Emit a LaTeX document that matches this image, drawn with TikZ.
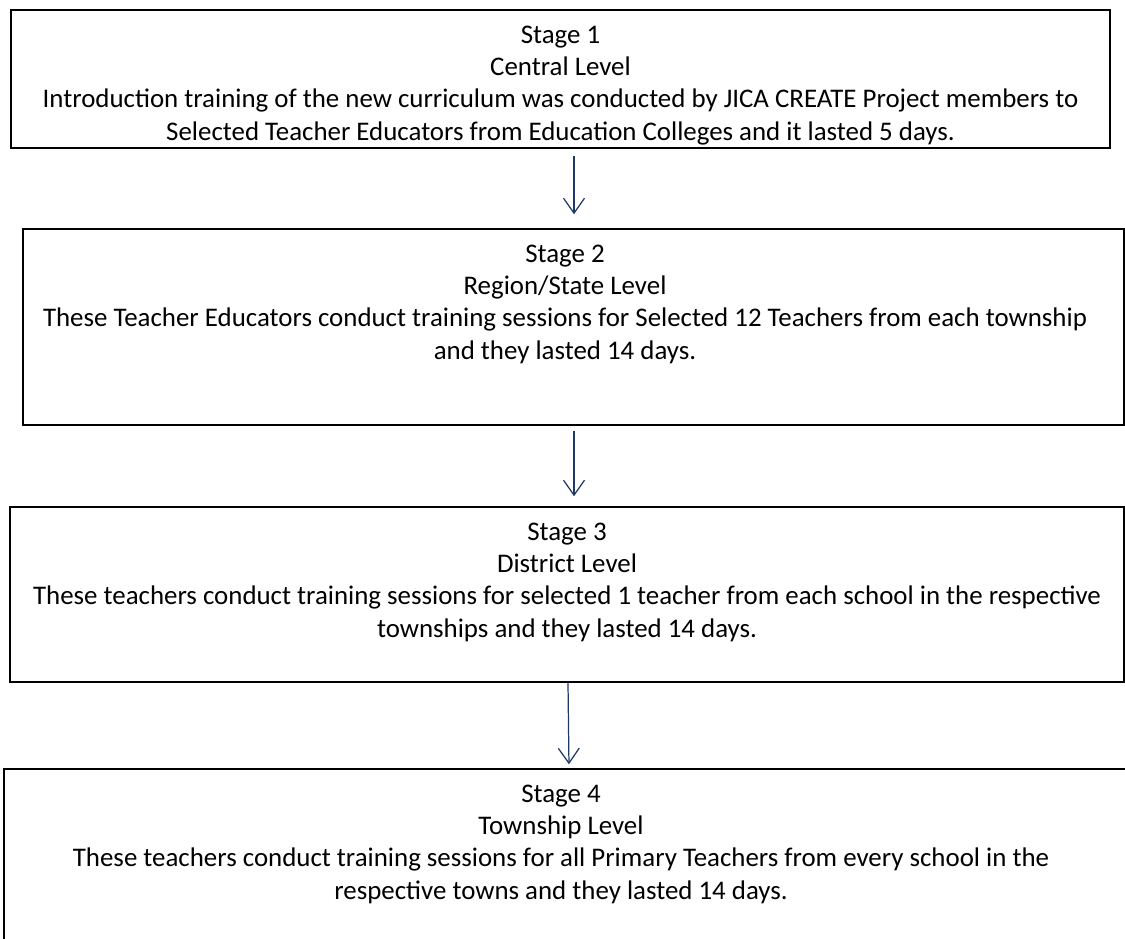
\documentclass[tikz,border=0pt]{standalone}
\usepackage{fontspec}
\setmainfont{Carlito}
\usepackage{xcolor}
\usepackage{tikz}
\usetikzlibrary{arrows.meta}
\definecolor{flownavy}{RGB}{31,56,100}

\tikzset{
  stagebox/.style={shape=rectangle, draw=black, line width=0.85pt, inner sep=0pt},
  stagetext/.style={anchor=north, align=center, inner sep=0pt,
    font=\fontsize{15.3}{18.4}\selectfont},
  flow/.style={draw=flownavy, line width=0.7pt,
    -{Straight Barb[length=0.3cm, width=0.42cm, line width=0.7pt]}}
}

\begin{document}
\begin{tikzpicture}
\clip (0, 0) rectangle (22.5, -18.76);
\node at (11.21, -1.58) [stagebox, minimum width=21.98cm, minimum height=2.76cm] (s1) {};
\node at (11.47, -6.54) [stagebox, minimum width=22.02cm, minimum height=3.92cm] (s2) {};
\node at (11.34, -11.89) [stagebox, minimum width=22.28cm, minimum height=3.50cm] (s3) {};
\node at (11.34, -17.14) [stagebox, minimum width=22.52cm, minimum height=3.52cm] (s4) {};
\node [stagetext] at ([yshift=-0.32cm]s1.north) (t1) {Stage 1\\Central Level\\Introduction training of the new curriculum was conducted by JICA CREATE Project members to\\Selected Teacher Educators from Education Colleges and it lasted 5 days.};
\node [stagetext] at ([yshift=-0.32cm]s2.north -| 11.3, 0) (t2) {Stage 2\\Region/State Level\\These Teacher Educators conduct training sessions for Selected 12 Teachers from each township\\and they lasted 14 days.};
\node [stagetext] at ([yshift=-0.32cm]s3.north) (t3) {Stage 3\\District Level\\These teachers conduct training sessions for selected 1 teacher from each school in the respective\\townships and they lasted 14 days.};
\node [stagetext] at ([yshift=-0.32cm]s4.north -| 11.22, 0) (t4) {Stage 4\\Township Level\\These teachers conduct training sessions for all Primary Teachers from every school in the\\respective towns and they lasted 14 days.};
\draw [flow, shorten <=0.14cm, shorten >=0.28cm] (s1.south -| 11.48, 0) to (s2.north -| 11.48, 0);
\draw [flow, shorten <=0.1cm, shorten >=0.2cm] (s2.south -| 11.48, 0) to (s3.north -| 11.48, 0);
\draw [flow, shorten >=0.08cm] (s3.south -| 11.36, 0) to (s4.north -| 11.38, 0);
\end{tikzpicture}
\end{document}
